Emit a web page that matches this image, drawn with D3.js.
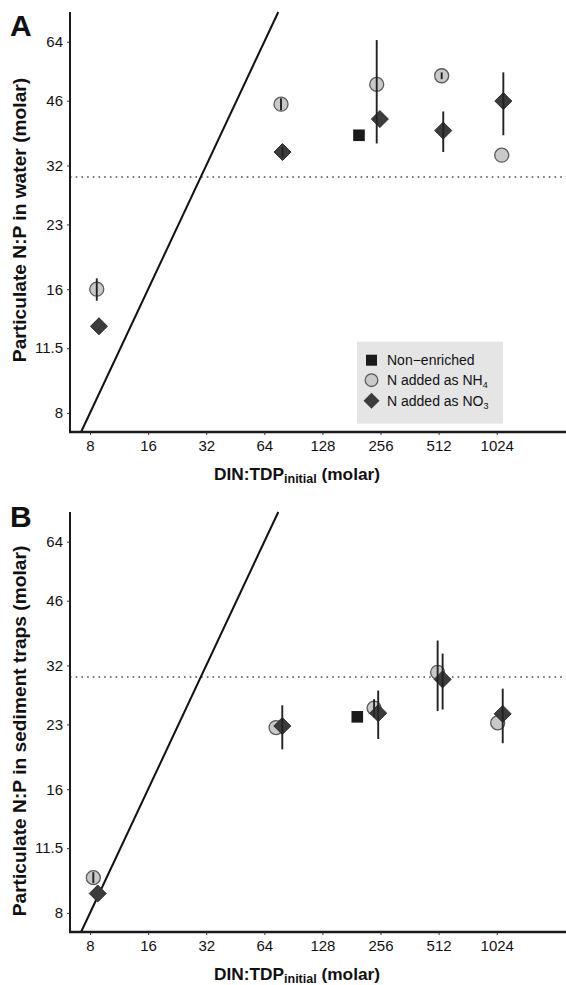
<!DOCTYPE html>
<html><head><meta charset="utf-8">
<script src="https://cdn.jsdelivr.net/npm/d3@7"></script>
<style>
html,body{margin:0;padding:0;background:#fff;}
svg{display:block;font-family:"Liberation Sans",Arial,sans-serif;}
</style></head>
<body><svg id="c" width="566" height="985"></svg>
<script>
// ---- data ----
const xTicks = [8, 16, 32, 64, 128, 256, 512, 1024];
const yTicks = [8, 11.5, 16, 23, 32, 46, 64];
const redfield = 30;

// Panel A: water
const nonX_A = [198];
const nonY_A = [37.9];
const nh4X_A = [8.67, 78.1, 244.6, 531, 1087];
const nh4Y_A = [16.0, 45.1, 50.4, 52.9, 33.9];
const nh4E_A = [1.0, 1.5, 14.2, 1.0, 0];
const no3X_A = [8.9, 79.5, 254, 541, 1108];
const no3Y_A = [13.0, 34.5, 41.5, 38.9, 45.9];
const no3E_A = [0, 1.0, 0, 4.4, 8.0];

// Panel B: sediment traps
const nonX_B = [194];
const nonY_B = [24.0];
const nh4X_B = [8.32, 73.6, 237, 506, 1036];
const nh4Y_B = [9.75, 22.6, 25.2, 30.8, 23.2];
const nh4E_B = [0.3, 0, 1.3, 6.0, 0];
const no3X_B = [8.77, 79.3, 249, 537, 1100];
const no3Y_B = [8.92, 22.8, 24.5, 29.6, 24.4];
const no3E_B = [0, 2.8, 3.3, 4.6, 3.7];

const legendLabels = ["Non\u2212enriched", "N added as NH", "N added as NO"];
const legendSubs = ["", "4", "3"];

// ---- drawing ----
const svg = d3.select("#c");
const L = 70, R = 566, H = 420;

function panel(top, letter, ytitle, ytitleCenter, nonX, nonY, nh4X, nh4Y, nh4E, no3X, no3Y, no3E, showLegend, letterY) {
  const g = svg.append("g");
  const x = d3.scaleLog().domain([6.3, 2340]).range([L, R]);
  const y = d3.scaleLog().domain([7.19, 75.6]).range([top + H, top]);

  // reference lines
  g.append("line").attr("x1", L).attr("x2", R)
    .attr("y1", y(redfield)).attr("y2", y(redfield))
    .attr("stroke", "#7a7a7a").attr("stroke-width", 1.8)
    .attr("stroke-dasharray", "1.6 4.1");
  g.append("line")
    .attr("x1", x(7.19)).attr("y1", y(7.19))
    .attr("x2", x(75.6)).attr("y2", y(75.6))
    .attr("stroke", "#111").attr("stroke-width", 2);

  // axes
  const ya = d3.axisLeft(y).tickValues(yTicks).tickFormat(d => String(d)).tickSize(3).tickPadding(4);
  const yg = g.append("g").attr("transform", `translate(${L},0)`).call(ya);
  yg.select(".domain").attr("stroke", "#1a1a1a").attr("stroke-width", 2).attr("d", `M0,${top}V${top+H}`);
  const xa = d3.axisBottom(x).tickValues(xTicks).tickFormat(d => String(d)).tickSize(3).tickPadding(5);
  const xg = g.append("g").attr("transform", `translate(0,${top + H})`).call(xa);
  xg.select(".domain").attr("stroke", "#1a1a1a").attr("stroke-width", 2.4).attr("d", `M${L-1},0H${R}`);
  [yg, xg].forEach(a => {
    a.selectAll("text").attr("font-size", 15).attr("fill", "#111")
      .attr("font-family", "Liberation Sans, Arial, sans-serif");
    a.selectAll(".tick line").attr("stroke", "#333");
  });

  // markers
  g.selectAll(".nh4").data(nh4X).enter().append("circle")
    .attr("cx", d => x(d)).attr("cy", (d, i) => y(nh4Y[i])).attr("r", 7)
    .attr("fill", "#c9c9c9").attr("stroke", "#5a5a5a").attr("stroke-width", 1.3);
  g.selectAll(".non").data(nonX).enter().append("rect")
    .attr("x", d => x(d) - 5.8).attr("y", (d, i) => y(nonY[i]) - 5.8)
    .attr("width", 11.6).attr("height", 11.6).attr("fill", "#1a1a1a");
  g.selectAll(".no3").data(no3X).enter().append("path")
    .attr("d", (d, i) => {
      const cx = x(d), cy = y(no3Y[i]), s = 8.5;
      return `M${cx},${cy - s}L${cx + s},${cy}L${cx},${cy + s}L${cx - s},${cy}Z`;
    })
    .attr("fill", "#3c3c3c").attr("stroke", "#2a2a2a").attr("stroke-width", 1);

  // error bars
  const eb = (xs, ys, es) => xs.forEach((d, i) => {
    if (es[i] > 0) g.append("line").attr("x1", x(d)).attr("x2", x(d))
      .attr("y1", y(ys[i] + es[i])).attr("y2", y(ys[i] - es[i]))
      .attr("stroke", "#222").attr("stroke-width", 1.9);
  });
  eb(nh4X, nh4Y, nh4E);
  eb(no3X, no3Y, no3E);

  // panel letter
  g.append("text").attr("x", 10).attr("y", letterY).text(letter)
    .attr("font-size", 30).attr("font-weight", "bold").attr("fill", "#111");

  // y title
  g.append("text").attr("transform", `translate(25.5,${ytitleCenter}) rotate(-90)`)
    .attr("text-anchor", "middle").attr("font-size", 19.2).attr("font-weight", "bold")
    .attr("fill", "#111").text(ytitle);

  // x title
  const xt = g.append("text").attr("x", 297).attr("y", top + H + 48)
    .attr("text-anchor", "middle").attr("font-size", 17.3).attr("font-weight", "bold").attr("fill", "#111");
  xt.append("tspan").text("DIN:TDP");
  xt.append("tspan").attr("font-size", 12.5).attr("dy", 2.5).text("initial");
  xt.append("tspan").attr("dy", -2.5).text(" (molar)");

  if (showLegend) {
    const lx = 357, ly = top + 329.7;
    g.append("rect").attr("x", lx).attr("y", ly).attr("width", 146).attr("height", 82)
      .attr("fill", "#e5e5e5");
    const rows = [ly + 18.5, ly + 38.5, ly + 59];
    g.append("rect").attr("x", lx + 9).attr("y", rows[0] - 5.5).attr("width", 11).attr("height", 11).attr("fill", "#1a1a1a");
    g.append("circle").attr("cx", lx + 14.5).attr("cy", rows[1]).attr("r", 6.3)
      .attr("fill", "#c9c9c9").attr("stroke", "#5a5a5a").attr("stroke-width", 1.3);
    g.append("path").attr("d", `M${lx+14.5},${rows[2]-8}L${lx+22.5},${rows[2]}L${lx+14.5},${rows[2]+8}L${lx+6.5},${rows[2]}Z`)
      .attr("fill", "#3c3c3c");
    legendLabels.forEach((t, i) => {
      const tx = g.append("text").attr("x", lx + 30).attr("y", rows[i] + 5)
        .attr("font-size", 14).attr("fill", "#111");
      tx.append("tspan").text(t);
      if (legendSubs[i]) tx.append("tspan").attr("font-size", 9).attr("dy", 3).text(legendSubs[i]);
    });
  }
}

panel(12, "A", "Particulate N:P in water (molar)", 220, nonX_A, nonY_A, nh4X_A, nh4Y_A, nh4E_A, no3X_A, no3Y_A, no3E_A, true, 36);
panel(512, "B", "Particulate N:P in sediment traps (molar)", 731, nonX_B, nonY_B, nh4X_B, nh4Y_B, nh4E_B, no3X_B, no3Y_B, no3E_B, false, 527);
</script></body></html>
